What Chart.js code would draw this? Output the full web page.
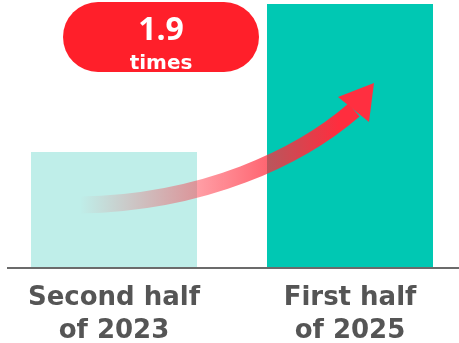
<!DOCTYPE html>
<html>
<head>
<meta charset="utf-8">
<script src="https://cdn.jsdelivr.net/npm/chart.js@4/dist/chart.umd.min.js"></script>
<style>
  html, body { margin: 0; padding: 0; background: #ffffff; overflow: hidden; }
  #wrap { position: absolute; left: -4px; top: 0; width: 472px; height: 343px; }
</style>
</head>
<body>
<div id="wrap"><canvas id="c"></canvas></div>
<script>
const categories = [["Second half", "of 2023"], ["First half", "of 2025"]];
const values = [100, 190];
const barColors = ["#bfeee9", "#00c8b3"];
const ratioLabel = "1.9";
const ratioUnit = "times";

const overlay = {
  id: "overlay",
  afterDatasetsDraw(chart) {
    const ctx = chart.ctx;
    const meta = chart.getDatasetMeta(0);
    const b0 = meta.data[0], b1 = meta.data[1];
    const base = chart.chartArea.bottom;
    ctx.save();
    // baseline
    ctx.strokeStyle = "#6b6b6b";
    ctx.lineWidth = 2;
    ctx.beginPath();
    ctx.moveTo(chart.chartArea.left + 11, base + 1);
    ctx.lineTo(chart.chartArea.right, base + 1);
    ctx.stroke();

    // curved arrow
    const p0 = { x: b0.x - 34, y: base - 62 };
    const c1 = { x: b0.x + 90, y: base - 64 };
    const c2 = { x: b1.x - 50, y: base - 110 };
    const p2 = { x: b1.x + 4, y: 110 };
    const grad = ctx.createLinearGradient(p0.x, 0, p2.x - 15, 0);
    grad.addColorStop(0, "rgba(255,42,58,0)");
    grad.addColorStop(0.45, "rgba(255,42,58,0.45)");
    grad.addColorStop(1, "rgba(255,45,62,1)");
    ctx.strokeStyle = grad;
    ctx.lineWidth = 17;
    ctx.lineCap = "butt";
    ctx.beginPath();
    ctx.moveTo(p0.x, p0.y);
    ctx.bezierCurveTo(c1.x, c1.y, c2.x, c2.y, p2.x, p2.y);
    ctx.stroke();
    // head
    ctx.fillStyle = "#ff2f40";
    ctx.beginPath();
    ctx.moveTo(b1.x + 24, 83);
    ctx.lineTo(b1.x - 12, 97);
    ctx.lineTo(b1.x + 19, 122);
    ctx.closePath();
    ctx.fill();

    // pill
    const px = b0.x - 51, py = 2, pw = 196, ph = 70, r = 35;
    ctx.fillStyle = "#ff1f2a";
    ctx.beginPath();
    ctx.moveTo(px + r, py);
    ctx.lineTo(px + pw - r, py);
    ctx.arc(px + pw - r, py + r, r, -Math.PI / 2, Math.PI / 2);
    ctx.lineTo(px + r, py + ph);
    ctx.arc(px + r, py + r, r, Math.PI / 2, Math.PI * 1.5);
    ctx.closePath();
    ctx.fill();
    ctx.fillStyle = "#ffffff";
    ctx.textAlign = "center";
    ctx.textBaseline = "alphabetic";
    ctx.font = "bold 32px 'Open Sans', 'DejaVu Sans', sans-serif";
    ctx.fillText(ratioLabel, px + pw / 2, 40);
    ctx.font = "bold 20px 'DejaVu Sans', sans-serif";
    ctx.fillText(ratioUnit, px + pw / 2, 69);
    ctx.restore();
  }
};

new Chart(document.getElementById("c"), {
  type: "bar",
  data: {
    labels: categories,
    datasets: [{
      data: values,
      backgroundColor: barColors,
      borderWidth: 0,
      categoryPercentage: 1,
      barPercentage: 0.7034
    }]
  },
  options: {
    responsive: true,
    maintainAspectRatio: false,
    animation: false,
    events: [],
    layout: { padding: { top: 4, left: 0, right: 0, bottom: 0 } },
    plugins: { legend: { display: false }, tooltip: { enabled: false } },
    scales: {
      x: {
        grid: { display: false, drawTicks: false },
        border: { display: false },
        ticks: {
          color: "#555555",
          padding: 14,
          font: { family: "'DejaVu Sans', sans-serif", weight: "bold", size: 26, lineHeight: 1.3 }
        },
        afterFit(scale) { scale.height = 76; }
      },
      y: {
        display: false,
        min: 30,
        max: 190
      }
    }
  },
  plugins: [overlay]
});
</script>
</body>
</html>
